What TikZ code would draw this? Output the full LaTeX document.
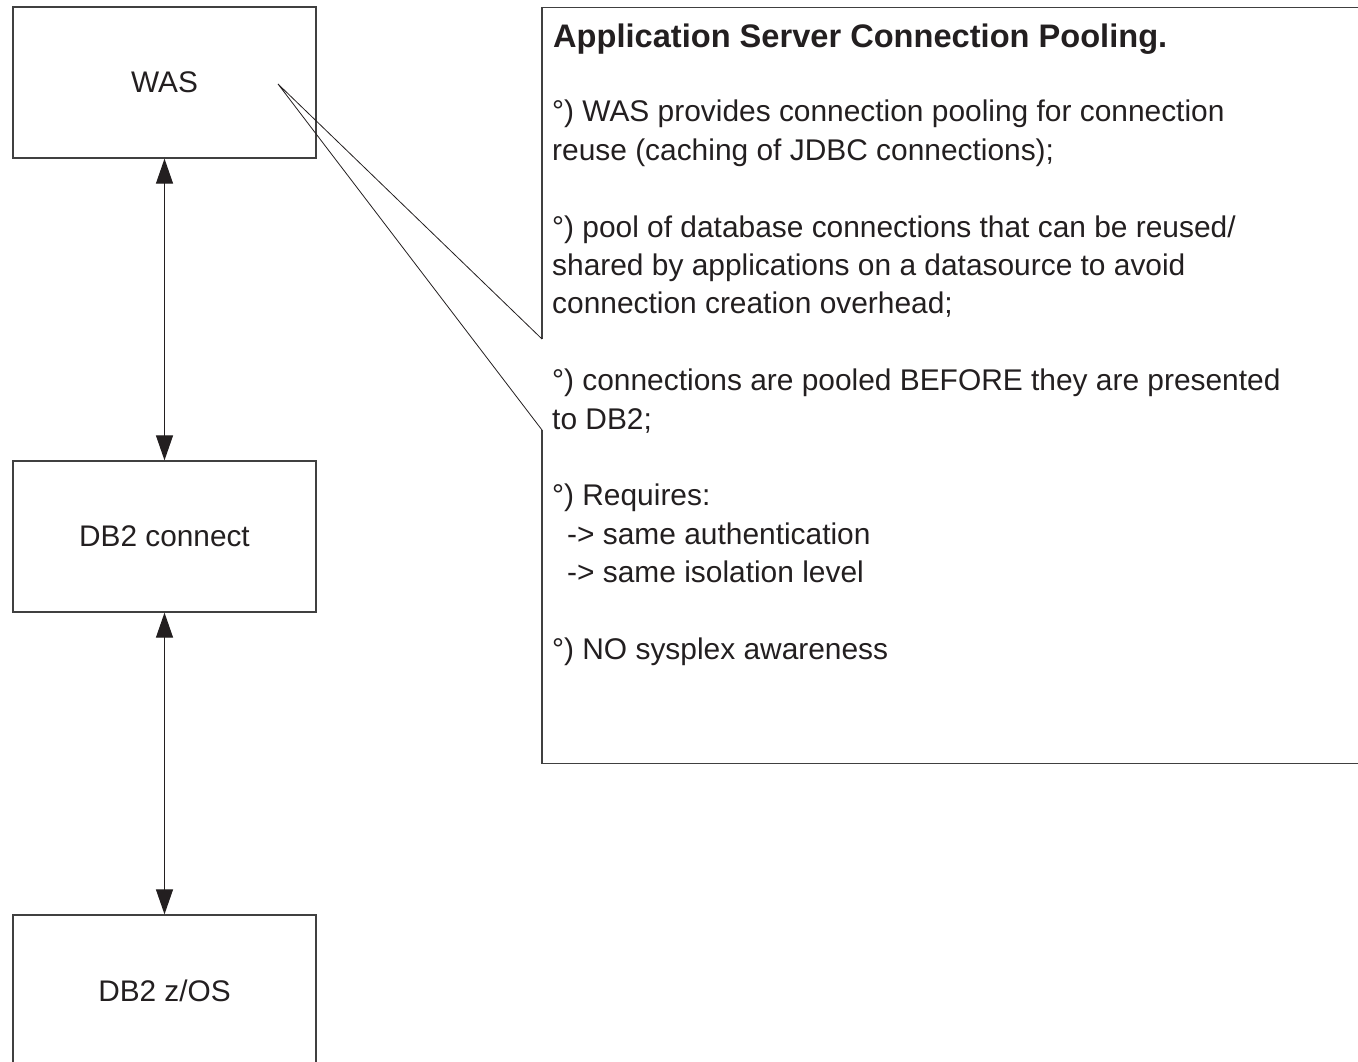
\documentclass[tikz,border=0pt]{standalone}
\usepackage{fontspec}
\setmainfont{Liberation Sans}
\usetikzlibrary{arrows.meta,positioning}
\definecolor{inkgray}{HTML}{231F20}
\definecolor{linegray}{HTML}{404040}
\tikzset{tier/.style={draw=linegray, line width=1.3pt, minimum width=303pt, minimum height=151pt,
    inner sep=0pt, text=inkgray, font=\fontsize{29.8}{38.4}\selectfont},
  link/.style={{Triangle[length=25pt,width=17pt]}-{Triangle[length=25pt,width=17pt]},
    draw=inkgray, line width=1.2pt},
  notetext/.style={inner sep=0pt, text=inkgray, align=left, font=\fontsize{29.9}{38.4}\selectfont},
  notebox/.style={draw=linegray, line width=1.3pt},
  pointer/.style={draw=inkgray, line width=0.8pt}}

\begin{document}
\begin{tikzpicture}[x=1pt,y=-1pt]
\useasboundingbox (0,0) rectangle (1358,1061);
\clip (0,0) rectangle (1358,1061);

\node[tier] (was) at (164.5,82.5) {WAS};
\node[tier, below=301.7pt of was] (connect) {DB2 connect};
\node[tier, below=301.7pt of connect] (zos) {DB2 z/OS};

\foreach \a/\b in {was/connect,connect/zos}
    \draw[link] (\a) -- (\b);

\coordinate (tip) at (278,84);
\coordinate (gaptop) at (542,339);
\coordinate (gapbot) at (542,430);

\draw[notebox] (gaptop) -- (542,7.5) -- (1366,7.5) -- (1366,763.5) -- (542,763.5) -- (gapbot);
\draw[pointer] (gaptop) -- (tip) -- (gapbot);

\node[notetext, anchor=base west, font=\bfseries\fontsize{32.6}{38.4}\selectfont] (title) at (553,47)
    {Application Server Connection Pooling.};
\node[notetext, anchor=north west] (body) at (552,100)
    {°) WAS provides connection pooling for connection\\
     reuse (caching of JDBC connections);\\[38.4pt]
     °) pool of database connections that can be reused/\\
     shared by applications on a datasource to avoid\\
     connection creation overhead;\\[38.4pt]
     °) connections are pooled BEFORE they are presented\\
     to DB2;\\[38.4pt]
     °) Requires:\\
     \hspace*{15pt}-> same authentication\\
     \hspace*{15pt}-> same isolation level\\[38.4pt]
     °) NO sysplex awareness};

\end{tikzpicture}
\end{document}
